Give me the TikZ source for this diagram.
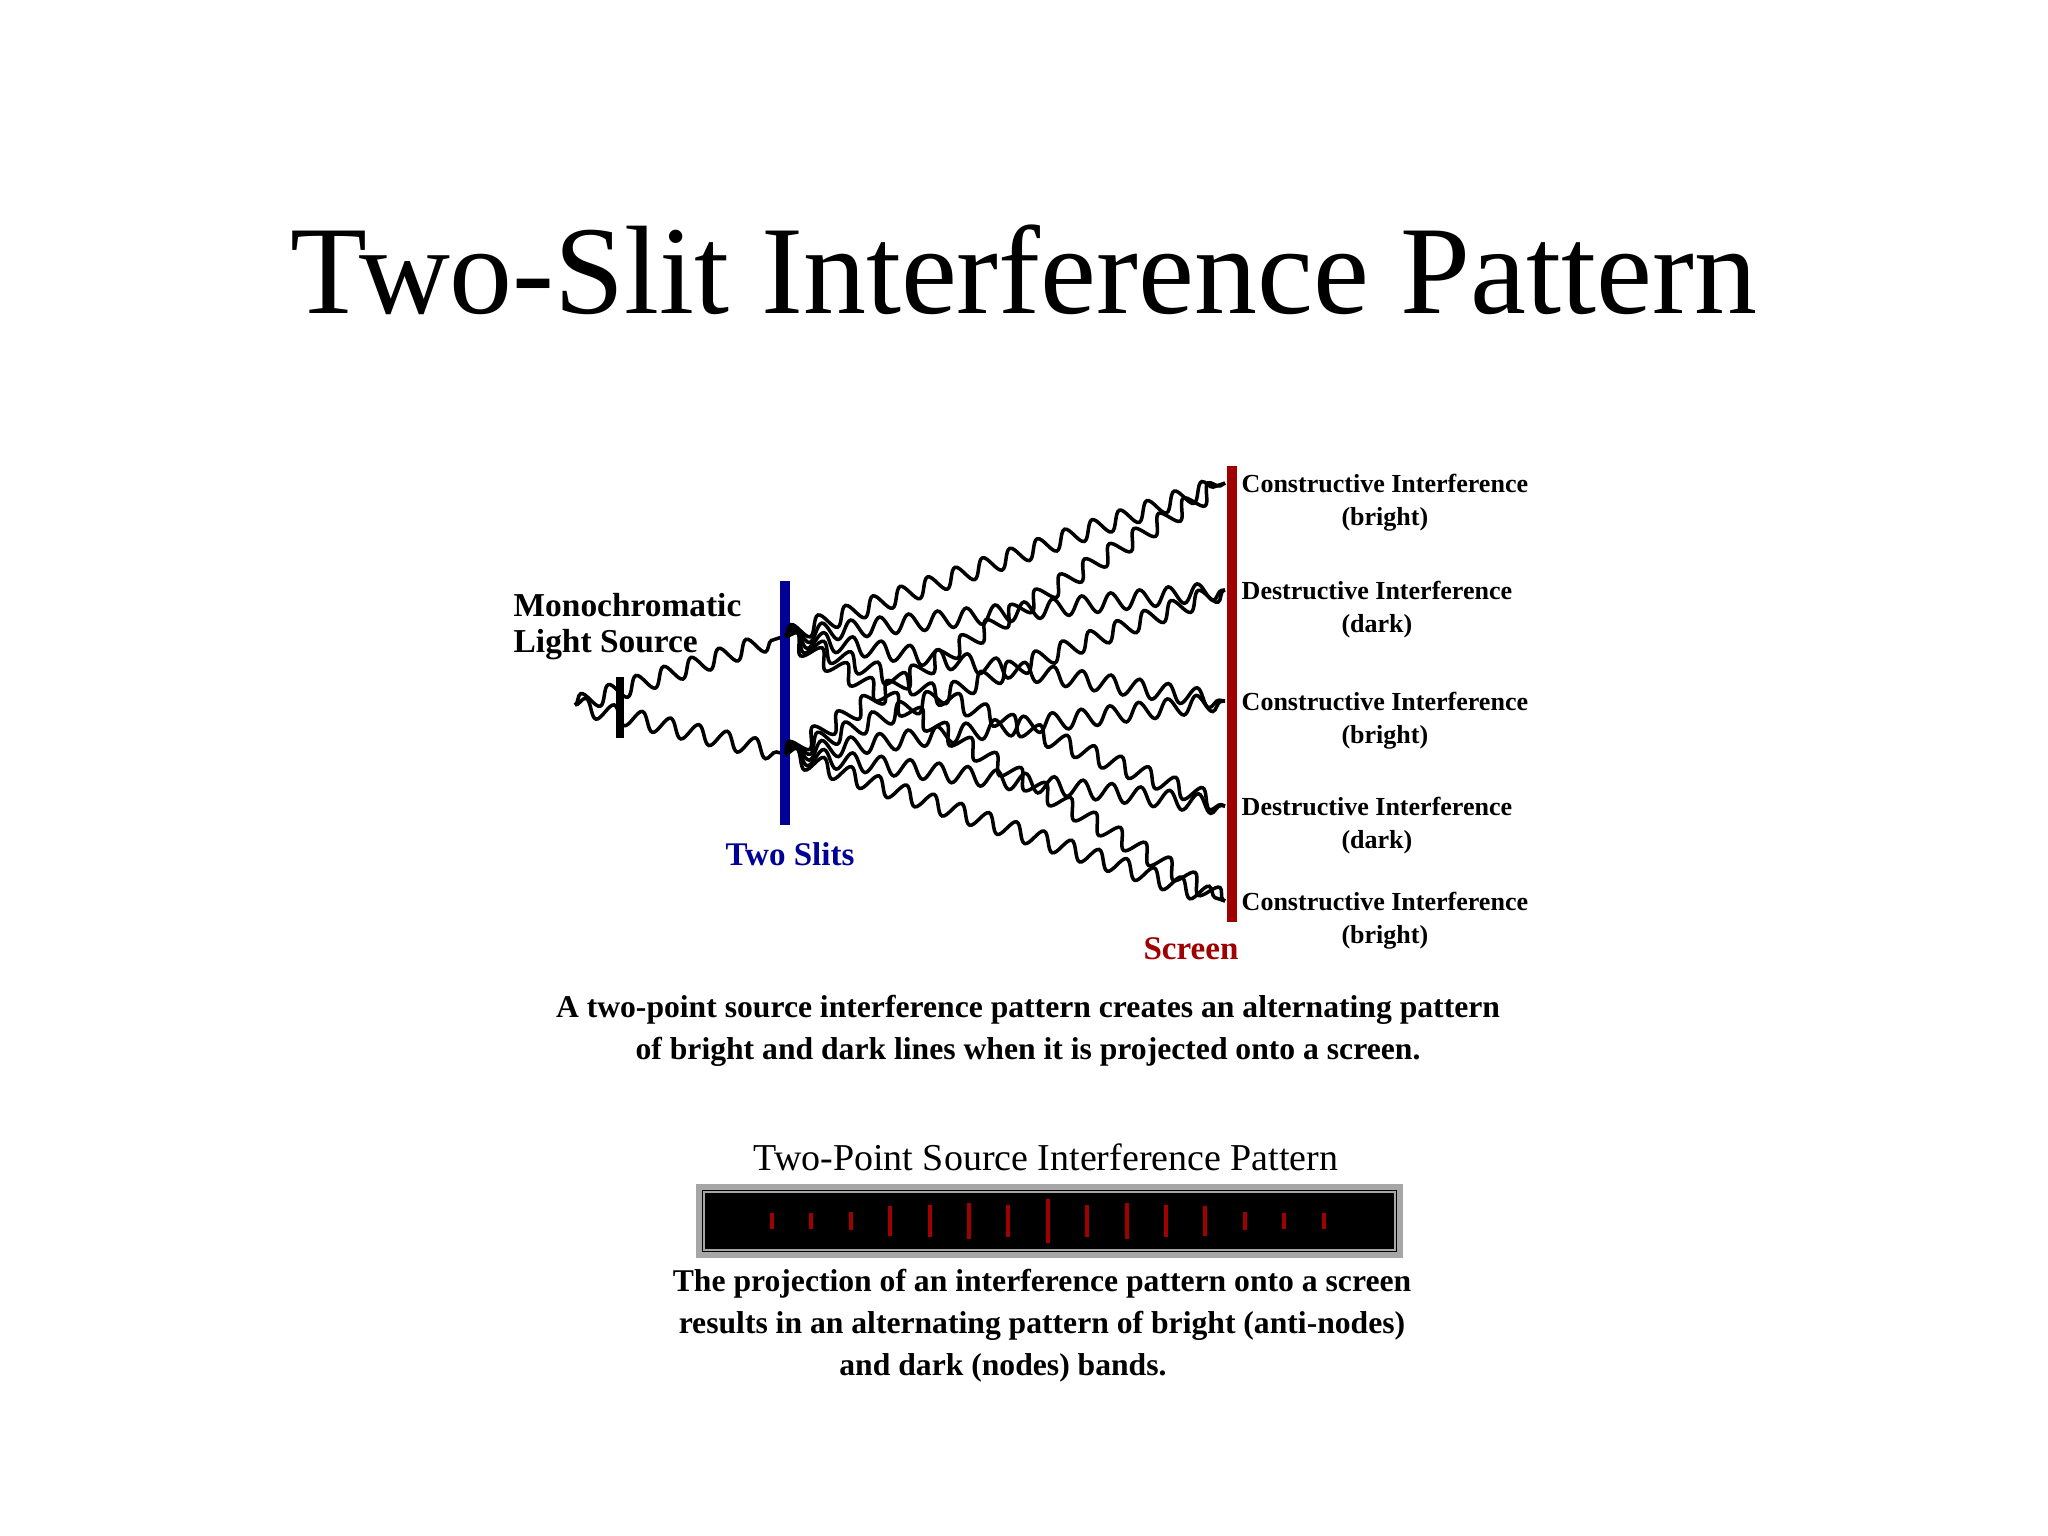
\documentclass[tikz,border=0pt]{standalone}
\usepackage{fontspec}
\setmainfont{Liberation Serif}
\usetikzlibrary{decorations.pathmorphing}
\definecolor{slitblue}{RGB}{0,0,150}
\definecolor{scrred}{RGB}{160,0,0}
\begin{document}
\begin{tikzpicture}[x=0.01cm,y=-0.01cm,
  wave/.style={draw=black,line width=1pt,decorate,decoration={snake,segment length=0.29cm,amplitude=0.09cm}},
  lbl/.style={font=\fontsize{7.4}{9.6}\selectfont\bfseries,align=center,inner sep=0pt},
  captext/.style={font=\fontsize{9}{11}\selectfont\bfseries,inner sep=0pt},
  tick/.style={fill=scrred,draw=none}]
\useasboundingbox (0,0) rectangle (2048,1536);
\fill[white] (0,0) rectangle (2048,1536);
\node (title) at (1024,270) {\fontsize{35.8}{40}\selectfont Two-Slit Interference Pattern};
% geometry
\coordinate (src) at (575,705);
\coordinate (sa) at (785,636);
\coordinate (sb) at (785,754);
\coordinate (p1) at (1225,483);
\coordinate (p2) at (1225,590);
\coordinate (p3) at (1225,701);
\coordinate (p4) at (1225,806);
\coordinate (p5) at (1225,901);
\draw[line width=2.5pt] (620,677) -- (620,738);
\draw[wave] (src) -- (sa);
\draw[wave] (src) -- (sb);
\draw[slitblue,line width=3pt] (785,581) -- (785,825);
\foreach \p in {p1,p2,p3,p4,p5}{
  \draw[wave] (sa) -- (\p);
  \draw[wave] (sb) -- (\p);
}
\draw[scrred,line width=3pt] (1232,466) -- (1232,922);
\node[lbl,font=\fontsize{9.5}{12}\selectfont\bfseries,anchor=west] (mono1) at (513,605) {Monochromatic};
\node[lbl,font=\fontsize{9.5}{12}\selectfont\bfseries,anchor=west] (mono2) at (513,645) {Light Source};
\node[lbl,font=\fontsize{9.4}{11}\selectfont\bfseries,text=slitblue] (slits) at (790,854) {Two Slits};
\node[lbl,font=\fontsize{9.4}{11}\selectfont\bfseries,text=scrred] (screen) at (1191,949) {Screen};
\foreach \y/\a/\b in {483/Constructive/bright,590/Destructive/dark,701/Constructive/bright,806/Destructive/dark,901/Constructive/bright}{
  \node[lbl,anchor=north west] at (1241,473-483+\y) {\a{} Interference\\(\b)};
}
\node[captext] (cap1a) at (1028,1010) {A two-point source interference pattern creates an alternating pattern};
\node[captext] (cap1b) at (1028,1052) {of bright and dark lines when it is projected onto a screen.};
\node[inner sep=0pt] (ptitle) at (1046,1157) {\fontsize{10.8}{12}\selectfont Two-Point Source Interference Pattern};
\draw[fill=black,draw=gray!70,line width=1.5pt] (699,1187) rectangle (1400,1255);
\draw[gray!70,line width=0.6pt] (704,1192) rectangle (1395,1250);
\foreach \i/\h in {0/16,1/16,2/18,3/30,4/32,5/36,6/32,7/44,8/32,9/36,10/32,11/30,12/18,13/16,14/16}{
  \fill[tick] ({772+\i*39.4-2},{1221-\h/2}) rectangle ({772+\i*39.4+2},{1221+\h/2});
}
\node[captext] (cap2a) at (1042,1284) {The projection of an interference pattern onto a screen};
\node[captext] (cap2b) at (1042,1326) {results in an alternating pattern of bright (anti-nodes)};
\node[captext] (cap3) at (1003,1368) {and dark (nodes) bands.};
\end{tikzpicture}
\end{document}
